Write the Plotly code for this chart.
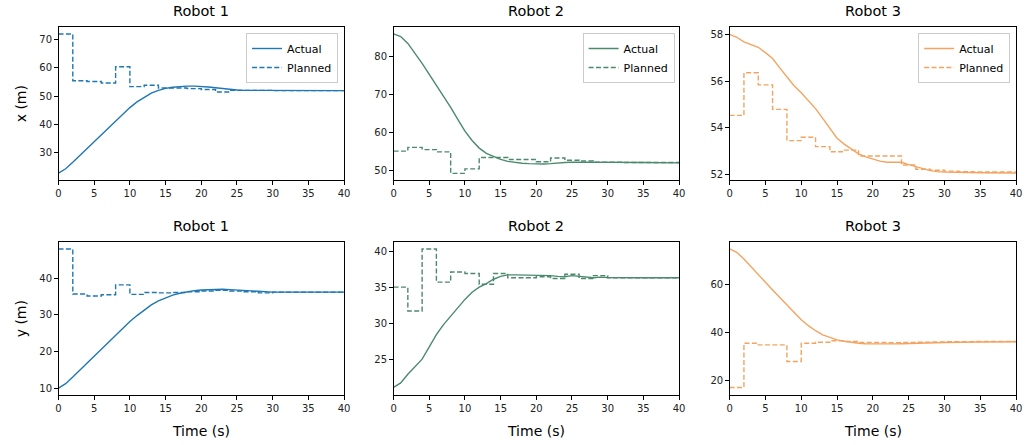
import numpy as np
import plotly.graph_objects as go

# ---------------- data ----------------
T_ACT = list(range(0, 31)) + [35, 40]
T_PLAN = list(range(0, 42, 2))  # step knots (last one closes the final step)

r1_x_act = [22.9, 24.4, 26.7, 29.1, 31.6, 34.1, 36.5, 38.9, 41.3, 43.7, 46.0, 48.0, 49.7, 51.1, 52.1, 52.8,
            53.2, 53.5, 53.6, 53.6, 53.5, 53.3, 53.0, 52.7, 52.4, 52.2, 52.1, 52.1, 52.05, 52.0, 52.0, 52.0, 52.0]
r1_x_plan = [72.0, 55.5, 55.2, 54.7, 60.4, 53.4, 53.9, 52.9, 52.9, 52.7, 52.4, 51.5, 52.1, 52.1, 52.1,
             52.0, 52.0, 52.0, 52.0, 52.0]

r2_x_act = [86.0, 85.3, 83.5, 81.0, 78.2, 75.3, 72.5, 69.6, 66.6, 63.4, 60.3, 57.8, 55.8, 54.4, 53.5, 52.8,
            52.3, 52.0, 51.8, 51.7, 51.6, 51.6, 51.7, 51.9, 52.0, 52.1, 52.1, 52.1, 52.1, 52.1, 52.0, 52.0, 51.9]
r2_x_plan = [55.0, 56.0, 55.4, 54.8, 49.1, 50.3, 53.3, 53.3, 52.8, 52.8, 52.2, 53.2, 52.6, 52.4, 52.1,
             52.1, 52.0, 52.0, 52.0, 52.0]

r3_x_act = [58.0, 57.88, 57.68, 57.55, 57.45, 57.22, 56.97, 56.57, 56.17, 55.8, 55.5, 55.18, 54.82, 54.4,
            53.95, 53.55, 53.3, 53.1, 52.88, 52.75, 52.65, 52.57, 52.52, 52.52, 52.52, 52.42, 52.34, 52.24,
            52.16, 52.12, 52.1, 52.07, 52.06]
r3_x_plan = [54.53, 56.36, 55.84, 54.79, 53.45, 53.59, 53.19, 52.97, 53.04, 52.79, 52.79, 52.79, 52.4,
             52.22, 52.18, 52.14, 52.12, 52.11, 52.1, 52.1]

r1_y_act = [10.0, 11.2, 13.0, 14.9, 16.9, 18.8, 20.7, 22.6, 24.5, 26.4, 28.2, 29.8, 31.3, 32.7, 33.8, 34.7,
            35.4, 35.9, 36.3, 36.6, 36.8, 36.9, 37.0, 37.0, 36.9, 36.8, 36.6, 36.5, 36.4, 36.3, 36.2, 36.2, 36.2]
r1_y_plan = [48.0, 35.7, 35.15, 35.5, 38.2, 35.6, 36.1, 36.0, 36.1, 36.3, 36.5, 36.7, 36.5, 36.3, 36.0,
             36.2, 36.2, 36.2, 36.2, 36.2]

r2_y_act = [21.1, 21.7, 22.9, 23.9, 25.0, 26.7, 28.4, 29.8, 31.0, 32.2, 33.3, 34.3, 35.0, 35.5, 36.1, 36.5,
            36.7, 36.7, 36.7, 36.7, 36.7, 36.6, 36.6, 36.5, 36.45, 36.6, 36.5, 36.35, 36.3, 36.4, 36.35, 36.3, 36.3]
r2_y_plan = [35.0, 31.7, 40.3, 35.7, 37.1, 36.9, 35.4, 36.9, 36.3, 36.3, 36.45, 36.2, 36.8, 36.2, 36.6,
             36.3, 36.3, 36.3, 36.3, 36.3]

r3_y_act = [75.0, 73.6, 70.8, 67.7, 64.4, 61.1, 57.9, 54.7, 51.6, 48.5, 45.5, 43.0, 40.9, 39.2, 38.0, 37.1,
            36.5, 36.0, 35.7, 35.5, 35.4, 35.4, 35.4, 35.4, 35.5, 35.6, 35.7, 35.8, 35.9, 36.0, 36.0, 36.2, 36.3]
r3_y_plan = [17.2, 35.7, 35.0, 35.0, 28.1, 35.7, 36.1, 36.7, 36.4, 36.0, 36.0, 35.9, 36.0, 36.1, 36.2,
             36.3, 36.3, 36.4, 36.4, 36.4]

TITLES = ["Robot 1", "Robot 2", "Robot 3"]
COLORS = ["#1f77b4", "#4c8a6e", "#f4a460"]
X_TICKS = [0, 5, 10, 15, 20, 25, 30, 35, 40]

panels = [
    # (row, col, actual, planned, yrange, yticks)
    (0, 0, r1_x_act, r1_x_plan, [20.45, 74.45], [30, 40, 50, 60, 70]),
    (0, 1, r2_x_act, r2_x_plan, [47.36, 87.84], [50, 60, 70, 80]),
    (0, 2, r3_x_act, r3_x_plan, [51.76, 58.32], [52, 54, 56, 58]),
    (1, 0, r1_y_act, r1_y_plan, [8.1, 49.9], [10, 20, 30, 40]),
    (1, 1, r2_y_act, r2_y_plan, [20.03, 41.27], [25, 30, 35, 40]),
    (1, 2, r3_y_act, r3_y_plan, [14.1, 77.9], [20, 40, 60]),
]

# ---------------- layout geometry (page pixels) ----------------
W, H = 1033, 445
col_px = [(56, 344), (394, 682), (733, 1022)]
row_px = [(27, 180), (242, 395)]


def fx(p):
    return p / W


def fy(p):
    return 1 - p / H


FONT = "DejaVu Sans, Liberation Sans, sans-serif"
fig = go.Figure()
layout = dict(
    width=W, height=H,
    margin=dict(l=0, r=0, t=0, b=0),
    paper_bgcolor="white", plot_bgcolor="white",
    font=dict(family=FONT, color="#000000", size=10),
    showlegend=True,
)
annotations = []

for i, (row, col, act, plan, yr, yt) in enumerate(panels):
    n = i + 1
    xa = "x" if n == 1 else f"x{n}"
    ya = "y" if n == 1 else f"y{n}"
    color = COLORS[col]
    legend_name = "legend" if col == 0 else f"legend{col + 1}"
    plan_vals = list(plan) + [plan[-1]]
    fig.add_trace(go.Scatter(
        x=T_ACT, y=act, mode="lines", name="Actual",
        line=dict(color=color, width=1.4),
        xaxis=xa, yaxis=ya, showlegend=row == 0, legend=legend_name,
    ))
    fig.add_trace(go.Scatter(
        x=T_PLAN, y=plan_vals, mode="lines", name="Planned",
        line=dict(color=color, width=1.4, dash="5px,2.4px", shape="hv"),
        xaxis=xa, yaxis=ya, showlegend=row == 0, legend=legend_name,
    ))
    x0, x1 = col_px[col]
    y0, y1 = row_px[row]
    axis_common = dict(
        showgrid=False, zeroline=False, showline=True, linecolor="black", linewidth=1,
        mirror=True, ticks="outside", ticklen=3.5, tickwidth=0.8, tickcolor="black",
        tickfont=dict(size=10, family=FONT, color="#222"),
    )
    layout["xaxis" if n == 1 else f"xaxis{n}"] = dict(
        axis_common, domain=[fx(x0), fx(x1)], range=[0, 40], tickvals=X_TICKS,
        anchor=ya,
    )
    layout["yaxis" if n == 1 else f"yaxis{n}"] = dict(
        axis_common, domain=[fy(y1), fy(y0)], range=yr, tickvals=yt,
        anchor=xa,
    )
    # subplot title
    annotations.append(dict(
        text=TITLES[col], x=fx((x0 + x1) / 2), y=fy(y0 - 16), xref="paper", yref="paper",
        xanchor="center", yanchor="middle", showarrow=False,
        font=dict(size=14.5, family=FONT, color="black"),
    ))
    if row == 1:
        annotations.append(dict(
            text="Time (s)", x=fx((x0 + x1) / 2), y=fy(431), xref="paper", yref="paper",
            xanchor="center", yanchor="middle", showarrow=False,
            font=dict(size=14, family=FONT, color="black"),
        ))
    if row == 0:
        lx = [338, 677.5, 1016][col]
        layout[legend_name] = dict(
            x=fx(lx), y=fy(33), xanchor="right", yanchor="top",
            bgcolor="rgba(255,255,255,0.8)", bordercolor="#cccccc", borderwidth=1,
            font=dict(size=11, family=FONT, color="black"),
            itemwidth=30, tracegroupgap=0,
        )

for row, label in enumerate(["x (m)", "y (m)"]):
    y0, y1 = row_px[row]
    annotations.append(dict(
        text=label, x=fx(18), y=fy((y0 + y1) / 2), xref="paper", yref="paper",
        xanchor="center", yanchor="middle", showarrow=False, textangle=-90,
        font=dict(size=14, family=FONT, color="black"),
    ))

layout["annotations"] = annotations
fig.update_layout(**layout)
fig.write_html(
    "out.html",
    config={"displayModeBar": False},
    post_script="document.body.style.margin='0';document.body.style.overflow='hidden';",
)
